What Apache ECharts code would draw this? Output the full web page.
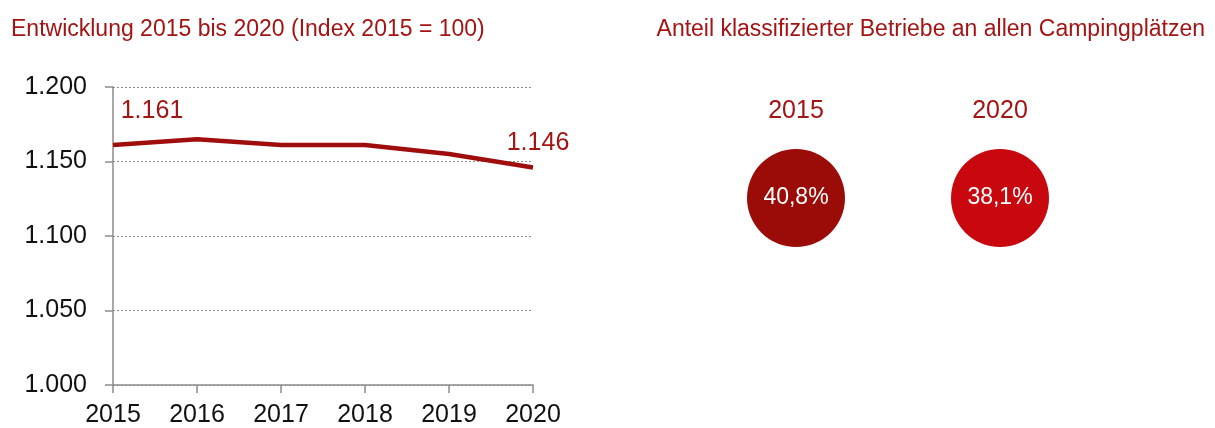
<!DOCTYPE html>
<html>
<head>
<meta charset="utf-8">
<script src="https://cdn.jsdelivr.net/npm/echarts@6/dist/echarts.min.js"></script>
<style>
  html, body { margin: 0; padding: 0; background: #fff; }
  #chart { width: 1215px; height: 428px; }
</style>
</head>
<body>
<div id="chart"></div>
<script>
// Entwicklung (Anzahl Campingplätze)
var years = ['2015', '2016', '2017', '2018', '2019', '2020'];
var values = [1161, 1165, 1161, 1161, 1155, 1146];
var yTicks = { min: 1000, max: 1200, interval: 50 };

// Anteil klassifizierter Betriebe
var shareYears = ['2015', '2020'];
var shareValues = [40.8, 38.1];
var shareColors = ['#9b0c08', '#c8070e'];

var red = '#a31414';
var font = 'Liberation Sans';

var fmtThousand = function (v) {
    var s = String(Math.round(v));
    return s.slice(0, s.length - 3) + '.' + s.slice(-3);
};

var chart = echarts.init(document.getElementById('chart'));

// nur erster und letzter Wert werden beschriftet
var lineData = values.map(function (v, i) {
    var item = { value: v };
    if (i === 0) {
        item.label = { show: true, offset: [39, -16] };
    } else if (i === values.length - 1) {
        item.label = { show: true, offset: [5, -6] };
    }
    return item;
});

var bubbleData = shareValues.map(function (v, i) {
    return {
        value: [i, 0, v],
        itemStyle: { color: shareColors[i], opacity: 1 }
    };
});

chart.setOption({
    animation: false,
    title: [{
        text: 'Entwicklung 2015 bis 2020 (Index 2015 = 100)',
        left: 6,
        top: 13,
        textStyle: { fontFamily: font, fontSize: 23, fontWeight: 'normal', color: red }
    }, {
        text: 'Anteil klassifizierter Betriebe an allen Campingplätzen',
        right: 5,
        top: 13,
        textStyle: { fontFamily: font, fontSize: 23, fontWeight: 'normal', color: red }
    }],
    grid: [
        { left: 113, top: 87, width: 420, height: 298, outerBoundsMode: 'none', containLabel: false },
        { left: 694, top: 130, width: 408, height: 136, outerBoundsMode: 'none', containLabel: false }
    ],
    xAxis: [{
        gridIndex: 0,
        type: 'category',
        data: years,
        boundaryGap: false,
        axisLine: { lineStyle: { color: '#8c8c8c', width: 1.5 } },
        axisTick: { show: true, length: 8, lineStyle: { color: '#8c8c8c', width: 1.5 } },
        axisLabel: { fontFamily: font, fontSize: 25, color: '#111', margin: 18 }
    }, {
        gridIndex: 1,
        type: 'category',
        data: shareYears,
        position: 'top',
        axisLine: { show: false },
        axisTick: { show: false },
        axisLabel: { fontFamily: font, fontSize: 25, color: red, margin: 6 }
    }],
    yAxis: [{
        gridIndex: 0,
        type: 'value',
        min: yTicks.min,
        max: yTicks.max,
        interval: yTicks.interval,
        axisLine: { show: true, lineStyle: { color: '#8c8c8c', width: 1.5 } },
        axisTick: { show: true, length: 8, lineStyle: { color: '#8c8c8c', width: 1.5 } },
        splitLine: { lineStyle: { color: '#8c8c8c', type: [2, 2], width: 1 } },
        axisLabel: { fontFamily: font, fontSize: 25, color: '#111', margin: 26, formatter: fmtThousand }
    }, {
        gridIndex: 1,
        type: 'value',
        min: -1,
        max: 1,
        show: false
    }],
    series: [{
        type: 'line',
        xAxisIndex: 0,
        yAxisIndex: 0,
        data: lineData,
        symbol: 'circle',
        symbolSize: 1,
        showAllSymbol: true,
        itemStyle: { color: 'transparent', borderWidth: 0 },
        lineStyle: { color: '#a00d0d', width: 4.5 },
        label: {
            show: false,
            position: 'top',
            fontFamily: font,
            fontSize: 25,
            color: red,
            opacity: 1,
            formatter: function (p) { return fmtThousand(p.value); }
        }
    }, {
        type: 'scatter',
        xAxisIndex: 1,
        yAxisIndex: 1,
        data: bubbleData,
        symbolSize: 98,
        label: {
            show: true,
            position: 'inside',
            fontFamily: font,
            fontSize: 23,
            color: '#fff',
            formatter: function (p) { return p.value[2].toFixed(1).replace('.', ',') + '%'; }
        }
    }]
});
</script>
</body>
</html>
